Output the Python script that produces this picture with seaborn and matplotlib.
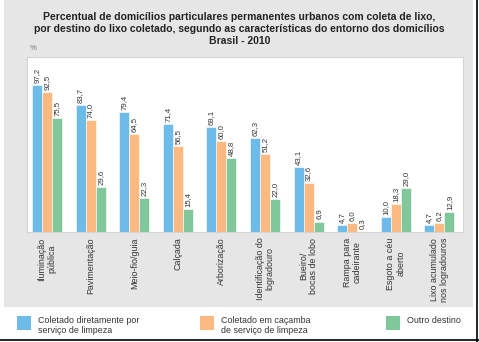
import matplotlib
matplotlib.use("Agg")
import matplotlib.pyplot as plt
import seaborn as sns
import pandas as pd
from matplotlib.patches import Rectangle
from matplotlib.lines import Line2D

categories = ["Iluminação\npública", "Pavimentação", "Meio-fio/guia", "Calçada",
              "Arborização", "Identificação do\nlogradouro", "Bueiro/\nbocas de lobo",
              "Rampa para\ncadeirante", "Esgoto a céu\naberto", "Lixo acumulado\nnos logradouros"]
series = ["Coletado diretamente por\nserviço de limpeza",
          "Coletado em caçamba\nde serviço de limpeza",
          "Outro destino"]
direto = [97.2, 83.7, 79.4, 71.4, 69.1, 62.3, 43.1, 4.7, 10.0, 4.7]
cacamba = [92.5, 74.0, 64.5, 56.5, 60.0, 51.2, 32.6, 6.0, 18.3, 6.2]
outro = [75.5, 29.6, 22.3, 15.4, 48.8, 22.0, 6.9, 0.3, 29.0, 12.9]
colors = ["#6dbbe8", "#fdb982", "#80c89c"]

rows = []
for s, vals in zip(series, [direto, cacamba, outro]):
    for c, v in zip(categories, vals):
        rows.append({"cat": c, "serie": s, "valor": v})
df = pd.DataFrame(rows)

plt.rcParams["font.family"] = ["Liberation Sans", "DejaVu Sans"]
fig = plt.figure(figsize=(4.79, 3.42), dpi=100)
W, H = 479, 342

# background panels
fig.patches.append(Rectangle((4 / W, 35 / H), 469 / W, 307 / H, transform=fig.transFigure,
                             facecolor="#e6e6e6", edgecolor="none", zorder=0))
fig.add_artist(Line2D([477 / W, 477 / W], [0, 1], transform=fig.transFigure, color="black", lw=1.2))
fig.add_artist(Line2D([0, 1], [2 / H, 2 / H], transform=fig.transFigure, color="black", lw=1.2))

ax = fig.add_axes([27 / W, (H - 232) / H, (463 - 27) / W, (232 - 57) / H])
ax.set_zorder(2)
sns.barplot(data=df, x="cat", y="valor", hue="serie", palette=colors, ax=ax,
            width=0.69, saturation=1, edgecolor="white", linewidth=0.4, legend=False)
ax.set_facecolor("white")
ax.set_ylim(0, 115.6)
ax.set_xlim(-0.46, len(categories) - 0.46)
ax.set_yticks([])
ax.set_xlabel("")
ax.set_ylabel("")
for sp in ax.spines.values():
    sp.set_color("#d4d4d4")
    sp.set_linewidth(0.8)
ax.tick_params(axis="x", length=0, pad=4)
ax.set_xticks(range(len(categories)))
ax.set_xticklabels(categories, rotation=90, fontsize=6.4, color="#333333",
                   ha="center", va="top", multialignment="center", linespacing=1.15)

for cont, vals in zip(ax.containers, [direto, cacamba, outro]):
    labels = [f"{v:.1f}".replace(".", ",") for v in vals]
    ax.bar_label(cont, labels=labels, rotation=90, padding=1.5, fontsize=5.6, color="#333333")

fig.text(0.5, 1 - 29 / H, "Percentual de domicílios particulares permanentes urbanos com coleta de lixo,\n"
         "por destino do lixo coletado, segundo as características do entorno dos domicílios\n"
         "Brasil - 2010", ha="center", va="center", fontsize=7.45, fontweight="bold",
         color="#222222", linespacing=1.2)
fig.text(33 / W, 1 - 48 / H, "%", fontsize=5.5, color="#777777", ha="center", va="center")

# legend
leg_items = [(17, colors[0], series[0]), (200, colors[1], series[1]), (386, colors[2], series[2])]
for x0, col, lab in leg_items:
    fig.patches.append(Rectangle((x0 / W, (H - 330) / H), 14 / W, 14 / H, transform=fig.transFigure,
                                 facecolor=col, edgecolor="none"))
    fig.text((x0 + 21) / W, 1 - 316 / H, lab, fontsize=6.4, color="#333333", ha="left", va="top",
             linespacing=1.15)

fig.savefig("out.png", dpi=100)
